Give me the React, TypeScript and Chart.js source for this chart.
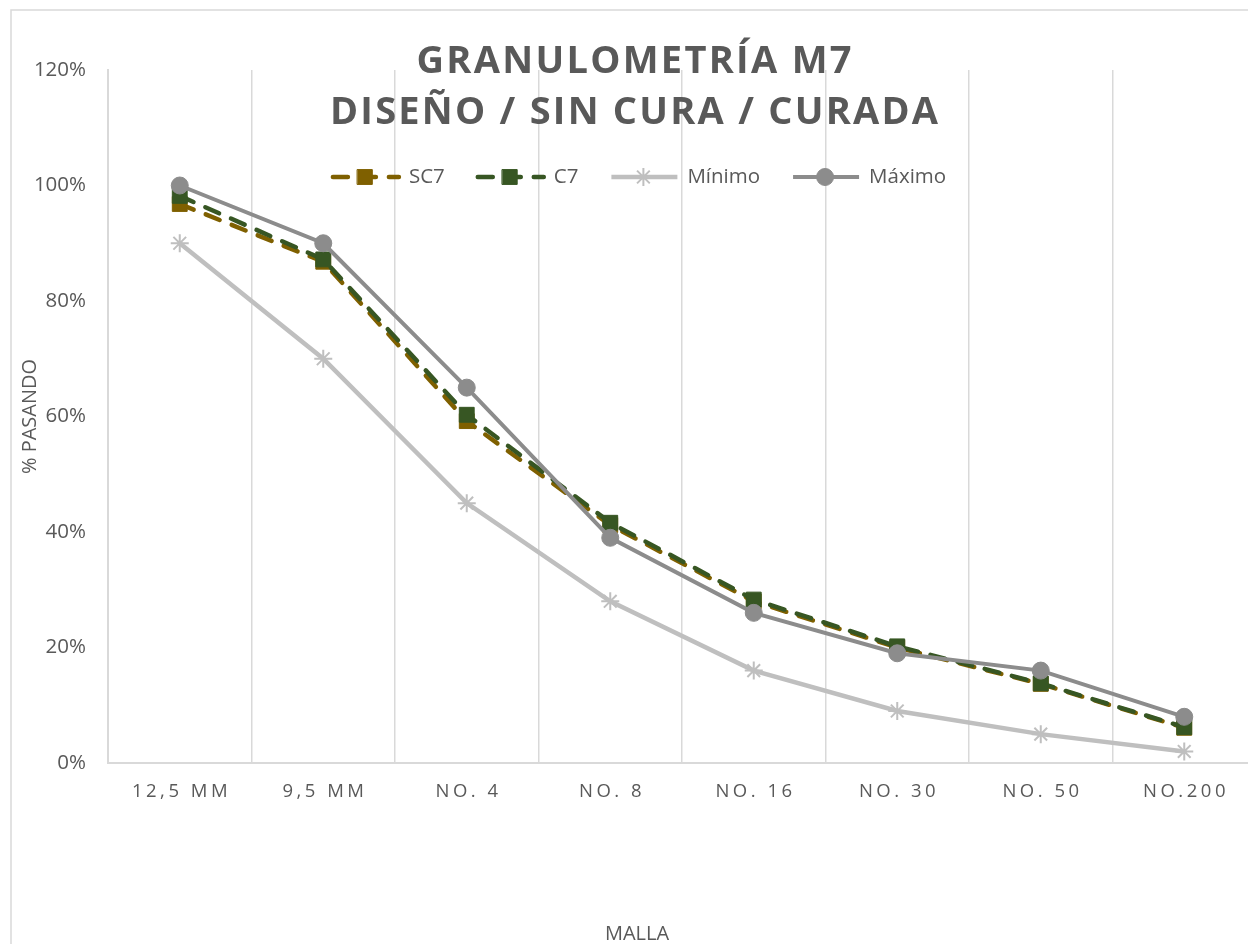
import React, { useEffect, useRef } from "react";
import { Chart, registerables } from "chart.js";
import { drawPoint } from "chart.js/helpers";

Chart.register(...registerables);

const categories = ["12,5 MM", "9,5 MM", "NO. 4", "NO. 8", "NO. 16", "NO. 30", "NO. 50", "NO.200"];
const sc7Values = [96.8, 86.8, 59.2, 41.2, 28.0, 20.0, 13.7, 6.1];
const c7Values = [98.2, 87.2, 60.3, 41.6, 28.3, 20.2, 13.8, 6.2];
const minimoValues = [90, 70, 45, 28, 16, 9, 5, 2];
const maximoValues = [100, 90, 65, 39, 26, 19, 16, 8];
const seriesNames = ["SC7", "C7", "Mínimo", "Máximo"];
const titleLines = ["GRANULOMETRÍA M7", "DISEÑO / SIN CURA / CURADA"];
const yAxisTitle = "% PASANDO";
const xAxisTitle = "MALLA";

const FONT = "'Open Sans', sans-serif";
const TEXT = "#595959";
const GRID = "#D9D9D9";

const CANVAS_W = 1300;
const CANVAS_H = 1000;

function spacedText(ctx: CanvasRenderingContext2D, text: string, cx: number, y: number, ls: number) {
  ctx.save();
  (ctx as any).letterSpacing = "0px";
  const w0 = ctx.measureText(text).width;
  const total = w0 + ls * (text.length - 1);
  (ctx as any).letterSpacing = ls + "px";
  ctx.textAlign = "left";
  ctx.fillText(text, cx - total / 2, y);
  ctx.restore();
}

const decorPlugin = {
  id: "decor",
  beforeDraw(chart: any) {
    const ctx = chart.ctx as CanvasRenderingContext2D;
    ctx.save();
    ctx.fillStyle = "#ffffff";
    ctx.fillRect(0, 0, chart.width, chart.height);
    ctx.strokeStyle = GRID;
    ctx.lineWidth = 1.5;
    ctx.strokeRect(11, 10, chart.width + 50, chart.height + 50);
    ctx.restore();
  },
  afterDraw(chart: any) {
    const ctx = chart.ctx as CanvasRenderingContext2D;
    // Title
    ctx.save();
    ctx.fillStyle = TEXT;
    ctx.font = `bold 38px ${FONT}`;
    ctx.textBaseline = "alphabetic";
    const targets = [435, 608];
    const ys = [73, 124];
    titleLines.forEach((line, i) => {
      (ctx as any).letterSpacing = "0px";
      const w0 = ctx.measureText(line).width;
      let ls = (targets[i] - w0) / (line.length - 1);
      ls = Math.max(0, Math.min(8, ls));
      spacedText(ctx, line, 634, ys[i], ls);
    });
    ctx.restore();

    // X tick labels
    const xs = chart.scales.x;
    ctx.save();
    ctx.fillStyle = TEXT;
    ctx.font = `18.5px ${FONT}`;
    ctx.textBaseline = "middle";
    (chart.data.labels as string[]).forEach((lab, i) => {
      spacedText(ctx, lab, xs.getPixelForValue(i), 792, 3.5);
    });
    // X axis title
    ctx.font = `20px ${FONT}`;
    ctx.textBaseline = "alphabetic";
    ctx.textAlign = "center";
    ctx.fillText(xAxisTitle, 637, 940);
    ctx.restore();

    // Legend
    ctx.save();
    ctx.font = `20.5px ${FONT}`;
    const symW = 70;
    const gapText = 8;
    const gapItem = 31;
    const dsList = chart.data.datasets;
    const widths = dsList.map((d: any) => ctx.measureText(d.label).width);
    const total = dsList.length * (symW + gapText) + widths.reduce((a: number, b: number) => a + b, 0) + gapItem * (dsList.length - 1);
    let x = 638.5 - total / 2;
    const ly = 177;
    dsList.forEach((d: any, i: number) => {
      ctx.save();
      ctx.strokeStyle = d.borderColor;
      ctx.lineWidth = d.borderWidth;
      ctx.lineCap = d.borderDash ? "round" : "butt";
      ctx.setLineDash(d.borderDash || []);
      ctx.beginPath();
      ctx.moveTo(x + 2, ly);
      ctx.lineTo(x + symW - 2, ly);
      ctx.stroke();
      ctx.setLineDash([]);
      ctx.fillStyle = d.pointBackgroundColor;
      ctx.strokeStyle = d.pointBorderColor;
      ctx.lineWidth = d.pointBorderWidth;
      drawPoint(ctx, { pointStyle: d.pointStyle, radius: d.pointRadius, rotation: 0, borderWidth: d.pointBorderWidth } as any, x + 34, ly);
      ctx.restore();
      ctx.fillStyle = TEXT;
      ctx.textBaseline = "middle";
      ctx.textAlign = "left";
      ctx.fillText(d.label, x + symW + gapText, ly);
      x += symW + gapText + widths[i] + gapItem;
    });
    ctx.restore();
  },
};

export default function App() {
  const ref = useRef<HTMLCanvasElement | null>(null);

  useEffect(() => {
    let chart: Chart | null = null;
    let cancelled = false;
    const make = () => {
      if (cancelled || !ref.current) return;
      chart = new Chart(ref.current, {
        type: "line",
        data: {
          labels: categories,
          datasets: [
            {
              label: seriesNames[0],
              data: sc7Values,
              borderColor: "#7F6000",
              backgroundColor: "#7F6000",
              borderWidth: 4.5,
              borderDash: [15, 13],
              borderCapStyle: "round",
              pointStyle: "rect",
              pointRadius: 10.5,
              pointBackgroundColor: "#7F6000",
              pointBorderColor: "#7F6000",
              pointBorderWidth: 1,
              tension: 0,
              order: 4,
            },
            {
              label: seriesNames[1],
              data: c7Values,
              borderColor: "#375623",
              backgroundColor: "#375623",
              borderWidth: 4.5,
              borderDash: [15, 13],
              borderCapStyle: "round",
              pointStyle: "rect",
              pointRadius: 10.5,
              pointBackgroundColor: "#375623",
              pointBorderColor: "#375623",
              pointBorderWidth: 1,
              tension: 0,
              order: 3,
            },
            {
              label: seriesNames[2],
              data: minimoValues,
              borderColor: "#BFBFBF",
              backgroundColor: "#BFBFBF",
              borderWidth: 4.5,
              pointStyle: "star",
              pointRadius: 9,
              pointBackgroundColor: "#BFBFBF",
              pointBorderColor: "#BFBFBF",
              pointBorderWidth: 2,
              tension: 0,
              order: 5,
            },
            {
              label: seriesNames[3],
              data: maximoValues,
              borderColor: "#8C8C8C",
              backgroundColor: "#8C8C8C",
              borderWidth: 4,
              pointStyle: "circle",
              pointRadius: 8.5,
              pointBackgroundColor: "#8C8C8C",
              pointBorderColor: "#8C8C8C",
              pointBorderWidth: 1,
              tension: 0,
              order: 1,
            },
          ] as any,
        },
        options: {
          responsive: false,
          animation: false,
          events: [],
          layout: { padding: { top: 70, right: 44, left: 0, bottom: 0 } },
          plugins: {
            legend: { display: false },
            title: { display: false },
            tooltip: { enabled: false },
          },
          scales: {
            x: {
              type: "category",
              offset: true,
              grid: { display: true, offset: true, color: GRID, lineWidth: 1.5, drawTicks: false },
              border: { display: true, color: GRID, width: 2 },
              ticks: { display: false },
              afterFit: (s: any) => {
                s.height = CANVAS_H - 763;
              },
            },
            y: {
              min: 0,
              max: 120,
              grid: { display: false, drawTicks: false },
              border: { display: true, color: GRID, width: 2 },
              ticks: {
                stepSize: 20,
                padding: 22,
                color: TEXT,
                font: { family: FONT, size: 20.5 },
                callback: (v: any) => v + "%",
              },
              title: {
                display: true,
                text: yAxisTitle,
                color: TEXT,
                font: { family: FONT, size: 20 },
                padding: { top: 18, bottom: 0 },
              },
              afterFit: (s: any) => {
                s.width = 108;
              },
            },
          },
        } as any,
        plugins: [decorPlugin],
      });
    };
    const fontsReady = (document as any).fonts
      ? Promise.all([
          (document as any).fonts.load(`20px "Open Sans"`),
          (document as any).fonts.load(`bold 38px "Open Sans"`),
        ]).catch(() => null)
      : Promise.resolve(null);
    fontsReady.then(make);
    return () => {
      cancelled = true;
      if (chart) chart.destroy();
    };
  }, []);

  return (
    <div
      style={{
        position: "fixed",
        left: 0,
        top: 0,
        width: 1248,
        height: 944,
        overflow: "hidden",
        background: "#ffffff",
      }}
    >
      <canvas
        ref={ref}
        width={CANVAS_W}
        height={CANVAS_H}
        style={{ display: "block", width: CANVAS_W, height: CANVAS_H }}
      />
    </div>
  );
}
